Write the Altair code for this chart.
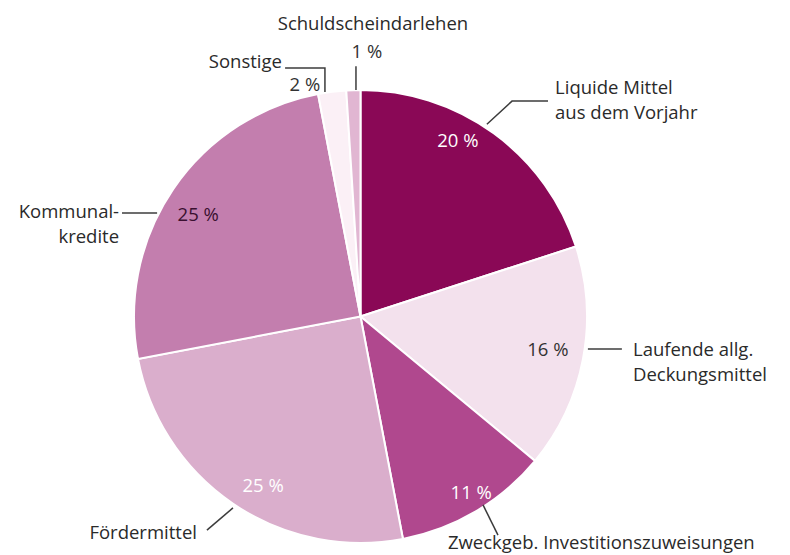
import math
import altair as alt
import pandas as pd

# ---- data ----
names = ["Liquide Mittel aus dem Vorjahr", "Laufende allg. Deckungsmittel",
         "Zweckgeb. Investitionszuweisungen", "Fördermittel", "Kommunalkredite",
         "Sonstige", "Schuldscheindarlehen"]
values = [20, 16, 11, 25, 25, 2, 1]
pct_labels = ["20 %", "16 %", "11 %", "25 %", "25 %", "2 %", "1 %"]
name_lines = [["Liquide Mittel", "aus dem Vorjahr"],
              ["Laufende allg.", "Deckungsmittel"],
              ["Zweckgeb. Investitionszuweisungen"],
              ["Fördermittel"],
              ["Kommunal-", "kredite"],
              ["Sonstige"],
              ["Schuldscheindarlehen"]]

# ---- style ----
colors = ["#8A0856", "#F3E1ED", "#B0488E", "#DAAECC", "#C37EAE", "#FBF0F6", "#E1B6D2"]
pct_colors = ["#FFFFFF", "#333333", "#FFFFFF", "#FFFFFF", "#3A1030", "#333333", "#333333"]
FONT = "Open Sans"
FS = 18.5
W, H = 774, 539
R = 226.5                 # outer radius in px
CX, CY = 352.5, 308.5     # pie centre inside the view (px)

# layout of annotations in units of the pie radius (x right, y up)
pct_layout = [(-7, 0.886), (-0.7, 0.84), (-1.5, 0.92), (-4.3, 0.863), (-2.2, 0.845),
              (-6.3, 1.051), (3.2, 1.168)]           # (angle tweak deg, radius factor)
name_layout = [((0.859, 1.009), "left"), ((1.203, -0.148), "left"),
               ((0.386, -1.0), "left"), ((-0.722, -0.956), "right"),
               ((-1.066, 0.461), "right"), ((-0.347, 1.124), "right"),
               ((0.055, 1.292), "center")]
LINE_H = 0.112
leaders = [[(0.558, 0.849), (0.669, 0.951), (0.828, 0.951)],
           [(1.004, -0.143), (1.154, -0.143)],
           [(0.541, -0.832), (0.607, -0.965)],
           [(-0.563, -0.845), (-0.678, -0.943)],
           [(-1.053, 0.457), (-0.898, 0.457)],
           [(-0.333, 1.097), (-0.157, 1.097), (-0.157, 0.991)],
           [(-0.02, 1.105), (-0.02, 1.0)]]

xs = alt.Scale(domain=[-CX / R, (W - CX) / R], nice=False, zero=False)
ys = alt.Scale(domain=[-(H - CY) / R, CY / R], nice=False, zero=False)

slices = pd.DataFrame({"name": names, "value": values, "idx": range(len(names)),
                       "cx": 0.0, "cy": 0.0})

pie = alt.Chart(slices).mark_arc(outerRadius=R, stroke="white", strokeWidth=2).encode(
    x=alt.X("cx:Q", scale=xs, axis=None),
    y=alt.Y("cy:Q", scale=ys, axis=None),
    theta=alt.Theta("value:Q", stack=True),
    color=alt.Color("name:N", scale=alt.Scale(domain=names, range=colors), legend=None),
    order=alt.Order("idx:Q", sort="ascending"),
)

# percentage labels, positioned from the slice mid-angles
rows = []
cum = 0
total = sum(values)
for v, lab, col, (dth, rf) in zip(values, pct_labels, pct_colors, pct_layout):
    mid = (cum + v / 2) / total * 360 + dth
    cum += v
    a = math.radians(mid)
    rows.append({"x": rf * math.sin(a), "y": rf * math.cos(a), "t": lab, "c": col})
pct_df = pd.DataFrame(rows)
pct = alt.Chart(pct_df).mark_text(font=FONT, fontSize=FS, baseline="middle", align="center").encode(
    x=alt.X("x:Q", scale=xs, axis=None), y=alt.Y("y:Q", scale=ys, axis=None),
    text="t:N", color=alt.Color("c:N", scale=None))

# category name labels
name_rows = []
for lines, ((ax, ay), al) in zip(name_lines, name_layout):
    for k, ln in enumerate(lines):
        name_rows.append({"x": ax, "y": ay - k * LINE_H, "t": ln, "a": al})
name_df = pd.DataFrame(name_rows)
name_layers = []
for al in ["left", "right", "center"]:
    name_layers.append(
        alt.Chart(name_df[name_df["a"] == al]).mark_text(
            font=FONT, fontSize=FS, baseline="middle", align=al, color="#2A2A2A").encode(
            x=alt.X("x:Q", scale=xs, axis=None), y=alt.Y("y:Q", scale=ys, axis=None), text="t:N"))

# leader lines
lrows = []
for g, pts in enumerate(leaders):
    for s, (px, py) in enumerate(pts):
        lrows.append({"g": g, "s": s, "x": px, "y": py})
lead_df = pd.DataFrame(lrows)
lead = alt.Chart(lead_df).mark_line(color="#3C3C3C", strokeWidth=1.5).encode(
    x=alt.X("x:Q", scale=xs, axis=None), y=alt.Y("y:Q", scale=ys, axis=None),
    detail="g:N", order="s:Q")

chart = alt.layer(pie, lead, pct, *name_layers).properties(
    width=W, height=H, padding=0
).configure_view(stroke=None)

chart.save("out.html", embed_options={"renderer": "svg", "actions": False})
